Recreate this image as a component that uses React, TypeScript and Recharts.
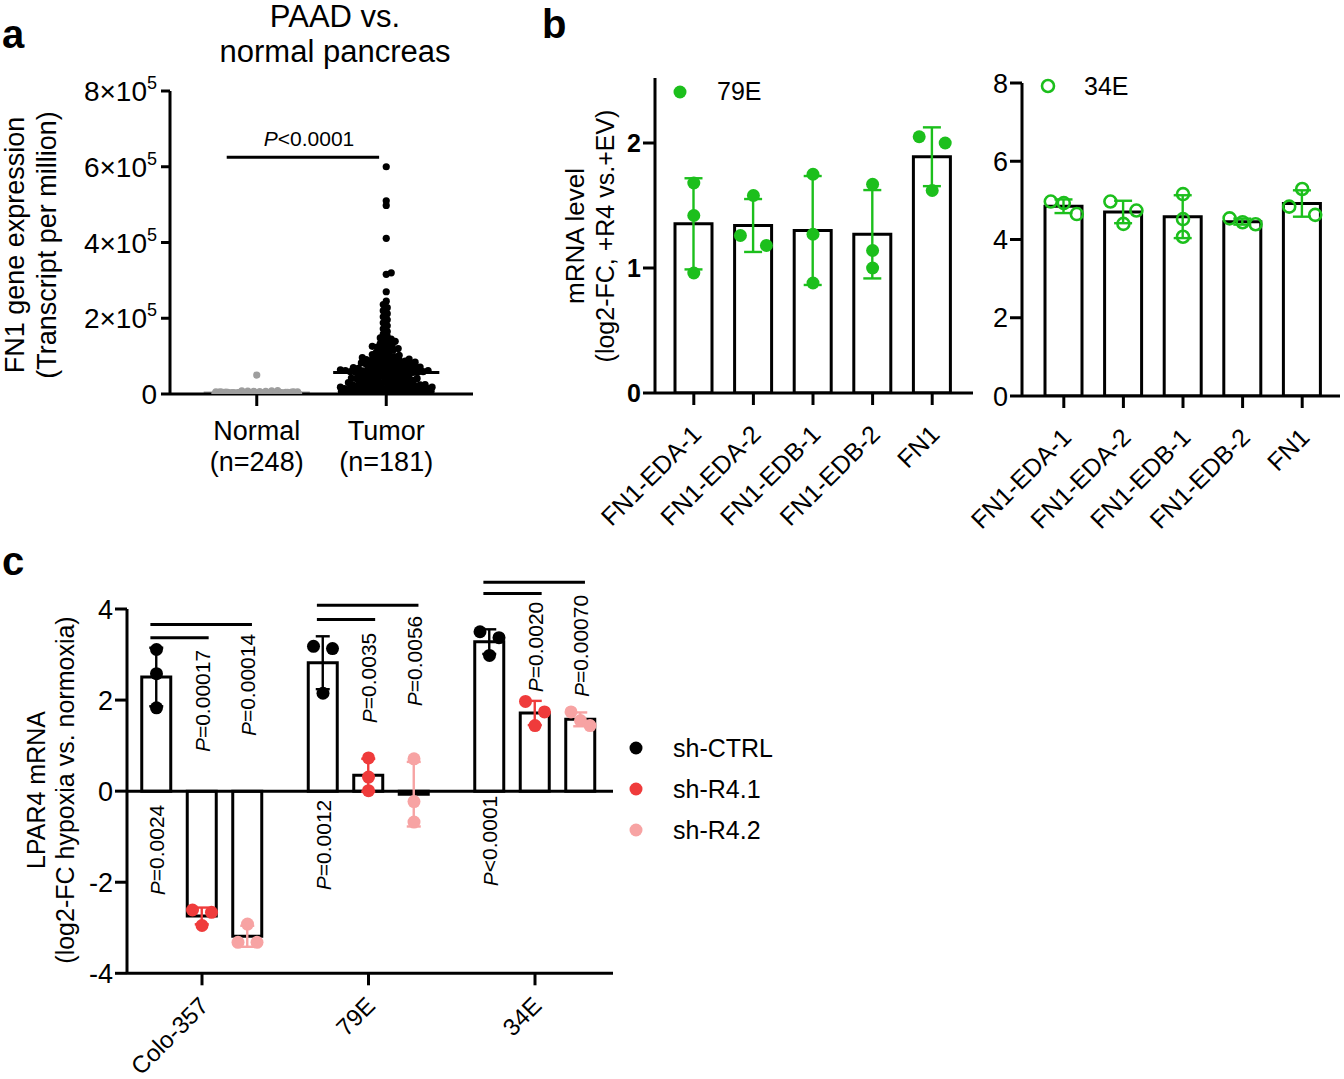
import React from 'react';
import { ScatterChart, Scatter, ComposedChart, Bar, ErrorBar, XAxis, YAxis, ReferenceLine } from 'recharts';

const FONT = "'Liberation Sans', Arial, Helvetica, sans-serif";
const BLACK = '#000000';
const GREEN = '#1cbf1c';
const RED = '#ef3b3b';
const PINK = '#f7a3a3';
const GREY = '#9e9e9e';

// ---------------- panel a data ----------------
const paadCategories = ['Normal', 'Tumor'];
const paadCounts = ['(n=248)', '(n=181)'];
const paadYTicks = [0, 200000, 400000, 600000, 800000];
const paadPValue = '<0.0001';
// values in thousands of TPM
const normalTPMk = [50, 9, 8.5, 8, 7.5, 7, 7, 6.5, 6, 6, 5.5, 5.5, 5, 5, 5, 4.5, 4.5, 4.5, 4, 4, 4, 4, 3.5, 3.5, 3.5, 3.5, 3, 3, 3, 3, 3, 2.5, 2.5, 2.5, 2.5, 2.5, 2, 2, 2, 2, 2, 2, 1.5, 1.5, 1.5, 1.5, 1.5, 1.5, 1, 1, 1, 1, 1, 1, 1, 0.8, 0.8, 0.7, 0.6, 0.5, 0.5, 0.4, 0.3, 0.3, 0.2];
const tumorTPMk = [600, 510, 498, 411, 320, 316, 270,
  245, 236, 228, 220, 212, 204, 196, 188, 180, 172, 165, 158, 152,
  148, 145, 142, 139, 136, 133, 130, 128, 126, 124, 122, 120, 118, 116, 113, 110, 108, 106, 104, 102,
  100, 99, 97, 96, 95, 93, 92, 91, 90, 89, 88, 87, 86, 85, 84, 83, 82, 81, 80, 79, 78, 77, 76, 75, 74, 73, 72, 71, 70, 70,
  69, 68, 67, 66, 66, 65, 64, 64, 63, 62, 62, 61, 61, 60, 60, 59, 59, 58, 58, 58,
  57, 56, 55, 54, 53, 52, 51, 50, 49, 48, 47, 46, 45, 44, 43, 42, 42, 41, 41, 40,
  39, 38, 37, 36, 35, 35, 34, 33, 32, 31, 30, 30, 29, 28, 27, 26, 25, 25, 24, 23, 22, 22, 21, 21, 20, 20,
  19, 18, 18, 17, 16, 16, 15, 15, 14, 14, 13, 13, 12, 12, 11, 11, 10, 10, 10, 9, 9, 9, 8, 8, 8, 7, 7, 7, 6, 6,
  6, 5, 5, 5, 4, 4, 4, 3, 3, 3, 2, 2, 2, 1, 1];

// ---------------- panel b data ----------------
const fnGenes = ['FN1-EDA-1', 'FN1-EDA-2', 'FN1-EDB-1', 'FN1-EDB-2', 'FN1'];
const rep79E = [[1.68, 1.42, 0.96], [1.58, 1.18, 1.26], [1.75, 1.27, 0.88], [1.67, 1.14, 1.0], [2.05, 2.0, 1.62]];
const rep34E = [[4.97, 4.93, 4.65], [4.97, 4.74, 4.4], [5.16, 4.52, 4.07], [4.39, 4.54, 4.44], [5.29, 4.84, 4.63]];
const ticks79E = [0, 1, 2];
const ticks34E = [0, 2, 4, 6, 8];
const legend79E = '79E';
const legend34E = '34E';

// ---------------- panel c data ----------------
const cellLines = ['Colo-357', '79E', '34E'];
const shNames = ['sh-CTRL', 'sh-R4.1', 'sh-R4.2'];
const shCtrl = [[3.11, 2.58, 1.83], [3.18, 3.13, 2.15], [3.5, 3.37, 2.98]];
const shR41 = [[-2.61, -2.66, -2.95], [0.73, 0.31, 0.01], [1.97, 1.74, 1.44]];
const shR42 = [[-2.92, -3.32, -3.32], [0.71, -0.23, -0.68], [1.74, 1.55, 1.44]];
const lparTicks = [-4, -2, 0, 2, 4];
const pVsZero = ['=0.0024', '=0.0012', '<0.0001'];
const pR41 = ['=0.00017', '=0.0035', '=0.0020'];
const pR42 = ['=0.00014', '=0.0056', '=0.00070'];

// ---------------- helpers ----------------
const mean = (a: number[]) => a.reduce((s, v) => s + v, 0) / a.length;
const sd = (a: number[]) => {
  const m = mean(a);
  return Math.sqrt(a.reduce((s, v) => s + (v - m) * (v - m), 0) / (a.length - 1));
};
const median = (a: number[]) => {
  const s = [...a].sort((x, y) => x - y);
  const n = s.length;
  return n % 2 ? s[(n - 1) / 2] : (s[n / 2 - 1] + s[n / 2]) / 2;
};

// capped beeswarm (pixel space)
function swarm(valsPx: number[], d: number, cap: number): number[] {
  const idx = valsPx.map((_, i) => i).sort((a, b) => valsPx[a] - valsPx[b]);
  const placed: { x: number; y: number }[] = [];
  const out = new Array(valsPx.length).fill(0);
  const cands: number[] = [0];
  for (let k = 1; k <= cap; k += 1) cands.push(k, -k);
  for (const i of idx) {
    const y = valsPx[i];
    let best = 0;
    let bestScore = -Infinity;
    for (const c of cands) {
      let minD = Infinity;
      for (const p of placed) {
        if (Math.abs(p.y - y) < d) {
          const dd = Math.hypot(p.x - c, p.y - y);
          if (dd < minD) minD = dd;
        }
      }
      if (minD >= d) { best = c; break; }
      if (minD > bestScore) { bestScore = minD; best = c; }
    }
    placed.push({ x: best, y });
    out[i] = best;
  }
  return out;
}

// Prism-like replicate spreading
function clusterOffsets(vals: number[], pxPerUnit: number, d: number, step: number): number[] {
  const order = vals.map((_, i) => i).sort((a, b) => vals[b] - vals[a]);
  const out = new Array(vals.length).fill(0);
  let cluster: number[] = [];
  const flush = () => {
    const n = cluster.length;
    const slots = n === 1 ? [0] : n === 2 ? [-1, 1] : cluster.map((_, k) => k - (n - 1) / 2);
    cluster.forEach((i, k) => (out[i] = slots[k] * step));
    cluster = [];
  };
  for (const i of order) {
    if (cluster.length && (vals[cluster[cluster.length - 1]] - vals[i]) * pxPerUnit >= d) flush();
    cluster.push(i);
  }
  flush();
  return out;
}

// ---------------- panel a build ----------------
const A_PX_PER_VAL = 303 / 800000;
const A_PX_PER_CAT = 130;
const normalVals = normalTPMk.map((v) => v * 1000);
const tumorVals = tumorTPMk.map((v) => v * 1000);
const normalOff = swarm(normalVals.map((v) => v * A_PX_PER_VAL), 6, 43);
const tumorOff = swarm(tumorVals.map((v) => v * A_PX_PER_VAL), 4.4, 46);
const normalPts = normalVals.map((v, i) => ({ x: 0 + normalOff[i] / A_PX_PER_CAT, y: v }));
const tumorPts = tumorVals.map((v, i) => ({ x: 1 + tumorOff[i] / A_PX_PER_CAT, y: v }));
const normalMed = median(normalVals);
const tumorMed = median(tumorVals);

// ---------------- panel b build ----------------
const B_BAND = 59.6;
const buildBars = (reps: number[][]) => fnGenes.map((g, i) => ({ gene: g, mean: mean(reps[i]), sd: sd(reps[i]) }));
const buildPts = (reps: number[][], pxPerUnit: number) => {
  const pts: { x: number; y: number }[] = [];
  reps.forEach((r, i) => {
    const offs = clusterOffsets(r, pxPerUnit, 12.35, 13);
    r.forEach((v, k) => pts.push({ x: i + offs[k] / B_BAND, y: v }));
  });
  return pts;
};
const bars79E = buildBars(rep79E);
const bars34E = buildBars(rep34E);
const pts79E = buildPts(rep79E, 125);
const pts34E = buildPts(rep34E, 313 / 8);

// ---------------- panel c build ----------------
const C_BAND = 166.5;
const C_SHIFT = 45.5;
const C_PX_PER_UNIT = 364.3 / 8;
const cBars = cellLines.map((c, i) => ({
  cell: c,
  ctrl: mean(shCtrl[i]), ctrlSd: sd(shCtrl[i]),
  r41: mean(shR41[i]), r41Sd: sd(shR41[i]),
  r42: mean(shR42[i]), r42Sd: sd(shR42[i]),
}));
const buildCPts = (reps: number[][], s: number) => {
  const pts: { x: number; y: number }[] = [];
  reps.forEach((r, i) => {
    const offs = clusterOffsets(r, C_PX_PER_UNIT, 12.35, 9.5);
    r.forEach((v, k) => pts.push({ x: i + ((s - 1) * C_SHIFT + offs[k]) / C_BAND, y: v }));
  });
  return pts;
};
const ptsCtrl = buildCPts(shCtrl, 0);
const ptsR41 = buildCPts(shR41, 1);
const ptsR42 = buildCPts(shR42, 2);
const seriesColors = [BLACK, RED, PINK];
// bracket levels (y, data units) for each cell line: [long, short]
const bracketLevels = [[3.66, 3.37], [4.08, 3.77], [4.59, 4.34]];

// ---------------- tick components ----------------
const PaadYTick = ({ x, y, payload }: any) => {
  const v = payload.value as number;
  if (v === 0) {
    return <text x={x - 2} y={y + 10} textAnchor="end" fontSize={28} fontFamily={FONT} fill="#000">0</text>;
  }
  return (
    <text x={x - 2} y={y + 10} textAnchor="end" fontSize={28} fontFamily={FONT} fill="#000">
      {`${Math.round(v / 100000)}×10`}
      <tspan dy={-12} fontSize={18}>5</tspan>
    </text>
  );
};
const PaadXTick = ({ x, y, payload }: any) => {
  const i = payload.value as number;
  return (
    <g>
      <text x={x} y={y + 32} textAnchor="middle" fontSize={27} fontFamily={FONT} fill="#000">{paadCategories[i]}</text>
      <text x={x} y={y + 63} textAnchor="middle" fontSize={27} fontFamily={FONT} fill="#000">{paadCounts[i]}</text>
    </g>
  );
};
const GeneTick = ({ x, y, payload }: any) => (
  <text transform={`translate(${x + 9},${y + 29}) rotate(-45)`} textAnchor="end" fontSize={25} fontFamily={FONT} fill="#000">
    {payload.value}
  </text>
);
const CellTick = ({ x, y, payload }: any) => (
  <text transform={`translate(${x + 8},${y + 20}) rotate(-45)`} textAnchor="end" fontSize={24} fontFamily={FONT} fill="#000">
    {payload.value}
  </text>
);

const dot = (r: number, fill: string) => (p: any) => <circle cx={p.cx} cy={p.cy} r={r} fill={fill} />;
const ring = (r: number, stroke: string) => (p: any) => <circle cx={p.cx} cy={p.cy} r={r} fill="none" stroke={stroke} strokeWidth={2.6} />;

const axisProps = {
  stroke: BLACK,
  axisLine: { stroke: BLACK, strokeWidth: 3 },
  tickLine: { stroke: BLACK, strokeWidth: 3 },
};

// ---------------- panels ----------------
const PanelA = () => (
  <ScatterChart width={480} height={500} margin={{ top: 91, right: 7, bottom: 26, left: 0 }}>
    <XAxis type="number" dataKey="x" domain={[-0.67, 1.67]} ticks={[0, 1]} interval={0} allowDataOverflow height={80} tickSize={12} tick={<PaadXTick />} {...axisProps} />
    <YAxis type="number" dataKey="y" domain={[0, 800000]} ticks={paadYTicks} interval={0} allowDataOverflow width={170} tickSize={9} tick={<PaadYTick />} {...axisProps} />
    <Scatter data={normalPts} fill={GREY} shape={dot(3.6, GREY)} isAnimationActive={false} />
    <Scatter data={tumorPts} fill={BLACK} shape={dot(3.6, BLACK)} isAnimationActive={false} />
    <ReferenceLine segment={[{ x: -0.41, y: normalMed }, { x: 0.41, y: normalMed }]} stroke={GREY} strokeWidth={3} ifOverflow="visible" />
    <ReferenceLine segment={[{ x: 0.59, y: tumorMed }, { x: 1.41, y: tumorMed }]} stroke={BLACK} strokeWidth={3} ifOverflow="visible" />
    <ReferenceLine segment={[{ x: -0.232, y: 625000 }, { x: 0.945, y: 625000 }]} stroke={BLACK} strokeWidth={3} ifOverflow="visible" />
  </ScatterChart>
);

const PanelB = ({ bars, pts, domain, ticks, width, height, margin, yWidth, padding, filled, bold }: any) => (
  <ComposedChart width={width} height={height} data={bars} margin={margin}>
    <XAxis xAxisId="cat" dataKey="gene" type="category" padding={padding} height={100} tickSize={12} interval={0} tick={<GeneTick />} {...axisProps} />
    <XAxis xAxisId="num" dataKey="x" type="number" domain={[-0.5, 4.5]} allowDataOverflow padding={padding} hide />
    <YAxis type="number" domain={domain} ticks={ticks} interval={0} allowDataOverflow width={yWidth} tickSize={12}
      tick={{ fontSize: bold ? 25 : 27, fill: '#000', fontFamily: FONT, fontWeight: bold ? 'bold' : 'normal' }} {...axisProps} />
    <Bar xAxisId="cat" dataKey="mean" barSize={37} fill="#ffffff" stroke={BLACK} strokeWidth={3} isAnimationActive={false}>
      <ErrorBar dataKey="sd" width={9} stroke={GREEN} strokeWidth={2.4} direction="y" />
    </Bar>
    <Scatter xAxisId="num" data={pts} dataKey="y" fill={GREEN} shape={filled ? dot(6.5, GREEN) : ring(6, GREEN)} isAnimationActive={false} />
  </ComposedChart>
);

const PanelC = () => (
  <ComposedChart width={640} height={519} data={cBars} margin={{ top: 49, right: 27, bottom: 5.7, left: 0 }} barGap={16.5}>
    <XAxis xAxisId="cat" dataKey="cell" type="category" padding={{ left: -8.25, right: -5.25 }} height={100} tickSize={12} interval={0} tick={<CellTick />} {...axisProps} />
    <XAxis xAxisId="num" dataKey="x" type="number" domain={[-0.5, 2.5]} allowDataOverflow padding={{ left: -8.25, right: -5.25 }} hide />
    <YAxis type="number" domain={[-4, 4]} ticks={lparTicks} interval={0} allowDataOverflow width={127} tickSize={12}
      tick={{ fontSize: 27, fill: '#000', fontFamily: FONT }} {...axisProps} />
    <ReferenceLine xAxisId="num" y={0} stroke={BLACK} strokeWidth={3} />
    <Bar xAxisId="cat" dataKey="ctrl" barSize={29} fill="#ffffff" stroke={BLACK} strokeWidth={3} isAnimationActive={false}>
      <ErrorBar dataKey="ctrlSd" width={7} stroke={BLACK} strokeWidth={2.4} direction="y" />
    </Bar>
    <Bar xAxisId="cat" dataKey="r41" barSize={29} fill="#ffffff" stroke={BLACK} strokeWidth={3} isAnimationActive={false}>
      <ErrorBar dataKey="r41Sd" width={7} stroke={RED} strokeWidth={2.4} direction="y" />
    </Bar>
    <Bar xAxisId="cat" dataKey="r42" barSize={29} fill="#ffffff" stroke={BLACK} strokeWidth={3} isAnimationActive={false}>
      <ErrorBar dataKey="r42Sd" width={7} stroke={PINK} strokeWidth={2.4} direction="y" />
    </Bar>
    <Scatter xAxisId="num" data={ptsCtrl} dataKey="y" fill={BLACK} shape={dot(6.5, BLACK)} isAnimationActive={false} />
    <Scatter xAxisId="num" data={ptsR41} dataKey="y" fill={RED} shape={dot(6.5, RED)} isAnimationActive={false} />
    <Scatter xAxisId="num" data={ptsR42} dataKey="y" fill={PINK} shape={dot(6.5, PINK)} isAnimationActive={false} />
    {bracketLevels.map((lv, i) => (
      <ReferenceLine key={`bl${i}`} xAxisId="num" segment={[{ x: i - 0.31, y: lv[0] }, { x: i + 0.3, y: lv[0] }]} stroke={BLACK} strokeWidth={3} ifOverflow="visible" />
    ))}
    {bracketLevels.map((lv, i) => (
      <ReferenceLine key={`bs${i}`} xAxisId="num" segment={[{ x: i - 0.31, y: lv[1] }, { x: i + 0.04, y: lv[1] }]} stroke={BLACK} strokeWidth={3} ifOverflow="visible" />
    ))}
  </ComposedChart>
);

// ---------------- overlay text ----------------
const PText = ({ x, y, v }: { x: number; y: number; v: string }) => (
  <text transform={`translate(${x},${y}) rotate(-90)`} textAnchor="middle" dominantBaseline="central" fontSize={21} fill="#000">
    <tspan fontStyle="italic">P</tspan>{v}
  </text>
);
const cBarCentre = (g: number, s: number) => 118.75 + (g + 0.5) * C_BAND + (s - 1) * C_SHIFT;
const pZeroY = [850, 845, 841];
const pR41Y = [701, 678, 647];
const pR42Y = [685, 661, 646];

export default function App() {
  return (
    <div style={{ position: 'absolute', left: 0, top: 0, width: 1344, height: 1079, background: '#ffffff', overflow: 'hidden', fontFamily: FONT }}>
      <div style={{ position: 'absolute', left: 0, top: 0 }}><PanelA /></div>
      <div style={{ position: 'absolute', left: 540, top: 60 }}>
        <PanelB bars={bars79E} pts={pts79E} domain={[0, 2.52]} ticks={ticks79E} width={440} height={480}
          margin={{ top: 18, right: 7, bottom: 47, left: 0 }} yWidth={115} padding={{ left: 9, right: 11 }} filled bold />
      </div>
      <div style={{ position: 'absolute', left: 960, top: 60 }}>
        <PanelB bars={bars34E} pts={pts34E} domain={[0, 8]} ticks={ticks34E} width={384} height={480}
          margin={{ top: 23, right: 4, bottom: 44, left: 0 }} yWidth={62} padding={{ left: 12, right: 8 }} filled={false} bold={false} />
      </div>
      <div style={{ position: 'absolute', left: 0, top: 560 }}><PanelC /></div>

      <svg width={1344} height={1079} style={{ position: 'absolute', left: 0, top: 0, pointerEvents: 'none' }} fontFamily={FONT}>
        {/* panel letters */}
        <text x={2} y={48} fontSize={40} fontWeight="bold">a</text>
        <text x={542} y={38} fontSize={40} fontWeight="bold">b</text>
        <text x={2} y={575} fontSize={40} fontWeight="bold">c</text>

        {/* panel a */}
        <text x={335} y={27} fontSize={31} textAnchor="middle">PAAD vs.</text>
        <text x={335} y={62} fontSize={31} textAnchor="middle">normal pancreas</text>
        <text x={309} y={146} fontSize={21} textAnchor="middle"><tspan fontStyle="italic">P</tspan>{paadPValue}</text>
        <text transform="translate(24,245) rotate(-90)" fontSize={27} textAnchor="middle">FN1 gene expression</text>
        <text transform="translate(56,245) rotate(-90)" fontSize={27} textAnchor="middle">(Transcript per million)</text>

        {/* panel b */}
        <text transform="translate(584,236) rotate(-90)" fontSize={26} textAnchor="middle">mRNA level</text>
        <text transform="translate(614,236) rotate(-90)" fontSize={25} textAnchor="middle">(log2-FC, +R4 vs.+EV)</text>
        <circle cx={680} cy={92} r={6.5} fill={GREEN} />
        <text x={717} y={100} fontSize={25}>{legend79E}</text>
        <circle cx={1048} cy={86} r={6} fill="none" stroke={GREEN} strokeWidth={2.6} />
        <text x={1084} y={95} fontSize={25}>{legend34E}</text>

        {/* panel c */}
        <text transform="translate(45,790) rotate(-90)" fontSize={25} textAnchor="middle">LPAR4 mRNA</text>
        <text transform="translate(74,790) rotate(-90)" fontSize={25} textAnchor="middle">(log2-FC hypoxia vs. normoxia)</text>
        {cellLines.map((_, g) => (
          <g key={`p${g}`}>
            <PText x={cBarCentre(g, 0)} y={pZeroY[g]} v={pVsZero[g]} />
            <PText x={cBarCentre(g, 1)} y={pR41Y[g]} v={pR41[g]} />
            <PText x={cBarCentre(g, 2)} y={pR42Y[g]} v={pR42[g]} />
          </g>
        ))}
        {shNames.map((n, i) => (
          <g key={n}>
            <circle cx={636} cy={748 + i * 41} r={6.5} fill={seriesColors[i]} />
            <text x={673} y={757 + i * 41} fontSize={25}>{n}</text>
          </g>
        ))}
      </svg>
    </div>
  );
}
